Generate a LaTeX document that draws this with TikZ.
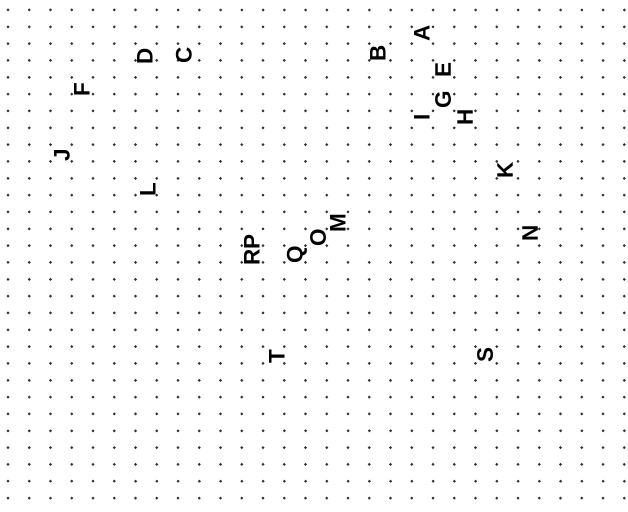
\documentclass[tikz,border=0pt]{standalone}
\usepackage{fontspec}
\setsansfont{Liberation Sans}
\begin{document}
\begin{tikzpicture}[
x=0.025cm, y=-0.025cm,
letter/.style={font=\sffamily\bfseries\fontsize{16}{16}\selectfont, rotate=90, inner sep=0pt, text=black}
]
\useasboundingbox (0,0) rectangle (628,511);
% dot grid
\foreach \i in {0,...,29}
  \foreach \j in {0,...,29}
    \fill[black!80] ({8+21.25*\i},{10+16.83*\j}) circle (1.5);
% letters
\node[letter] (a) at (422,33) {A};
\node[letter] (b) at (378,53) {B};
\node[letter] (c) at (184,55) {C};
\node[letter] (d) at (145,56) {D};
\node[letter] (e) at (443,70) {E};
\node[letter] (f) at (82,90) {F};
\node[letter] (g) at (443,100) {G};
\node[letter] (h) at (465,117) {H};
\node[letter] (i) at (422,117) {I};
\node[letter] (j) at (62,155) {J};
\node[letter] (k) at (505,170) {K};
\node[letter] (l) at (148,190) {L};
\node[letter] (m) at (338,223) {M};
\node[letter] (n) at (530,233) {N};
\node[letter] (o) at (318,238) {O};
\node[letter] (rp) at (252,250) {RP};
\node[letter] (q) at (297,255) {Q};
\node[letter] (s) at (485,355) {S};
\node[letter] (t) at (277,357) {T};
\end{tikzpicture}
\end{document}
